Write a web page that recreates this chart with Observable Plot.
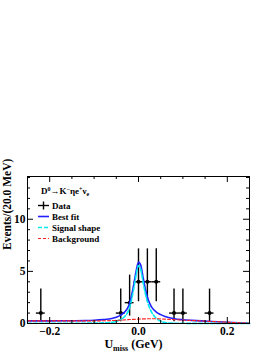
<!DOCTYPE html>
<html><head><meta charset="utf-8">
<script src="https://cdn.jsdelivr.net/npm/d3@7"></script>
<script src="https://cdn.jsdelivr.net/npm/@observablehq/plot@0.6"></script>
<style>body{margin:0;background:#fff} svg{display:block}</style>
</head><body><div id="chart"></div>
<script>
// Data histogram (bin width 20 MeV)
const binCenters = [-0.22, -0.04, -0.02, 0.0, 0.02, 0.04, 0.08, 0.10, 0.16];
const counts     = [1, 1, 2, 4, 4, 4, 1, 1, 1];
const errLow     = [0.83, 0.83, 1.29, 1.91, 1.91, 1.91, 0.83, 0.83, 0.83];
const errHigh    = [2.30, 2.30, 2.64, 3.16, 3.16, 3.16, 2.30, 2.30, 2.30];
const binHalfWidth = 0.01;

// Curves
const curveX      = [-0.25,-0.2,-0.15,-0.12,-0.1,-0.08,-0.06,-0.05,-0.04,-0.03,-0.025,-0.02,-0.015,-0.01,-0.005,0,0.005,0.01,0.015,0.02,0.025,0.03,0.04,0.05,0.06,0.08,0.1,0.12,0.15,0.2,0.25];
const bestFit     = [0.25,0.25,0.26,0.28,0.31,0.37,0.48,0.6,0.8,1.15,1.45,1.95,2.8,3.9,5.1,5.9,5.6,4.5,3.4,2.55,1.95,1.55,1.1,0.85,0.66,0.46,0.36,0.3,0.23,0.12,0.03];
const signalShape = [0.02,0.02,0.02,0.03,0.04,0.06,0.12,0.2,0.38,0.72,1.02,1.52,2.4,3.5,4.75,5.55,5.2,4.05,2.95,2.1,1.5,1.05,0.5,0.22,0.08,0.03,0.02,0.01,0.01,0.01,0.01];
const background  = [0.25,0.25,0.25,0.25,0.25,0.26,0.28,0.3,0.32,0.35,0.36,0.38,0.39,0.4,0.41,0.42,0.43,0.44,0.44,0.45,0.45,0.45,0.45,0.44,0.42,0.37,0.33,0.29,0.23,0.12,0.03];

// Ticks
const xMajorTicks = [-0.2, 0, 0.2];
const xMinorTicks = [-0.15, -0.1, -0.05, 0.05, 0.1, 0.15];
const yMajorTicks = [0, 5, 10];
const yMinorTicks = [1, 2, 3, 4, 6, 7, 8, 9, 11, 12, 13, 14];

const yLabel = "Events/(20.0 MeV)";
const xLabel = "U (GeV)";
const legendItems = ["Data", "Best fit", "Signal shape", "Background"];

const points = binCenters.map((x, i) => ({x, y: counts[i], lo: counts[i] - errLow[i], hi: counts[i] + errHigh[i]}));
const curves = curveX.map((x, i) => ({x, fit: bestFit[i], sig: signalShape[i], bkg: background[i]}));

const W = 273, H = 353, mT = 176, mB = 30, mL = 27, mR = 24;
const fh = H - mT - mB, fw = W - mL - mR;

const plot = Plot.plot({
  width: W, height: H,
  marginTop: mT, marginBottom: mB, marginLeft: mL, marginRight: mR,
  style: {fontFamily: "'Liberation Serif', 'Times New Roman', serif", fontWeight: "bold", fontSize: "11.5px", background: "#fff"},
  x: {domain: [-0.25, 0.25]},
  y: {domain: [0, 14.1]},
  marks: [
    // data
    Plot.ruleX(points, {x: "x", y1: "lo", y2: "hi", stroke: "black", strokeWidth: 1.4}),
    Plot.ruleY(points, {y: "y", x1: d => d.x - binHalfWidth, x2: d => d.x + binHalfWidth, stroke: "black", strokeWidth: 1.4}),
    Plot.dot(points, {x: "x", y: "y", r: 2, fill: "black"}),
    // curves
    Plot.line(curves, {x: "x", y: "fit", stroke: "#2020ff", strokeWidth: 1.6, curve: "monotone-x"}),
    Plot.line(curves, {x: "x", y: "sig", stroke: "#00e8f0", strokeWidth: 1.6, strokeDasharray: "4,2", curve: "monotone-x"}),
    Plot.line(curves, {x: "x", y: "bkg", stroke: "#ff2020", strokeWidth: 1.1, strokeDasharray: "3,2", curve: "monotone-x"}),
    // frame and inward ticks
    Plot.frame({stroke: "black", strokeWidth: 1}),
    Plot.tickX(xMajorTicks, {x: d => d, insetTop: fh - 6, stroke: "black"}),
    Plot.tickX(xMajorTicks, {x: d => d, insetBottom: fh - 6, stroke: "black"}),
    Plot.tickX(xMinorTicks, {x: d => d, insetTop: fh - 3, stroke: "black"}),
    Plot.tickX(xMinorTicks, {x: d => d, insetBottom: fh - 3, stroke: "black"}),
    Plot.tickY(yMajorTicks, {y: d => d, insetRight: fw - 6, stroke: "black"}),
    Plot.tickY(yMajorTicks, {y: d => d, insetLeft: fw - 6, stroke: "black"}),
    Plot.tickY(yMinorTicks, {y: d => d, insetRight: fw - 3, stroke: "black"}),
    Plot.tickY(yMinorTicks, {y: d => d, insetLeft: fw - 3, stroke: "black"}),
    // axes labels
    Plot.axisX(xMajorTicks, {tickSize: 0, tickPadding: 3, tickFormat: d3.format(".1f"), label: null, fontSize: 11.5}),
    Plot.axisY(yMajorTicks, {tickSize: 0, tickPadding: 2, tickFormat: d => String(d), label: null, fontSize: 11.5}),
    Plot.text([yLabel], {frameAnchor: "left", dx: -20, rotate: -90, fontSize: 11.5, text: d => d}),
    Plot.text([xLabel], {frameAnchor: "bottom", dx: -5, dy: 24, fontSize: 12, text: d => d})
  ]
});

const svg = d3.select(plot);
// subscript in x label
svg.selectAll("text").filter(function() { return this.textContent === xLabel; }).each(function() {
  const t = d3.select(this);
  t.text(null);
  t.append("tspan").text("U");
  t.append("tspan").attr("font-size", 8).attr("dy", 3).text("miss");
  t.append("tspan").attr("dy", -3).text(" (GeV)");
});

// legend
const lg = svg.append("g").attr("font-size", 9).attr("font-weight", "bold").attr("text-anchor", "start")
  .attr("font-family", "'Liberation Serif', 'Times New Roman', serif");
const title = lg.append("text").attr("x", 41).attr("y", 194).attr("font-size", 9);
title.append("tspan").text("D");
title.append("tspan").attr("font-size", 6).attr("dy", -3).text("0");
title.append("tspan").attr("dy", 3).text("→K");
title.append("tspan").attr("font-size", 6).attr("dy", -3).text("−");
title.append("tspan").attr("dy", 3).text("ηe");
title.append("tspan").attr("font-size", 6).attr("dy", -3).text("+");
title.append("tspan").attr("dy", 3).text("ν");
title.append("tspan").attr("font-size", 6).attr("dy", 2).text("e");

const rowY = [205.5, 216.5, 227.5, 238.5];
const sw = [
  {stroke: "black", width: 1.4, dash: null},
  {stroke: "#2020ff", width: 1.6, dash: null},
  {stroke: "#00e8f0", width: 1.6, dash: "4,2"},
  {stroke: "#ff2020", width: 1.1, dash: "3,2"}
];
legendItems.forEach((name, i) => {
  const y = rowY[i];
  lg.append("line").attr("x1", 38).attr("x2", 49).attr("y1", y).attr("y2", y)
    .attr("stroke", sw[i].stroke).attr("stroke-width", sw[i].width).attr("stroke-dasharray", sw[i].dash);
  if (i === 0) lg.append("line").attr("x1", 43.5).attr("x2", 43.5).attr("y1", y - 4).attr("y2", y + 4)
    .attr("stroke", "black").attr("stroke-width", 1.4);
  lg.append("text").attr("x", 52).attr("y", y).attr("dy", "0.35em").text(name);
});

document.getElementById("chart").appendChild(plot);
</script>
</body></html>
